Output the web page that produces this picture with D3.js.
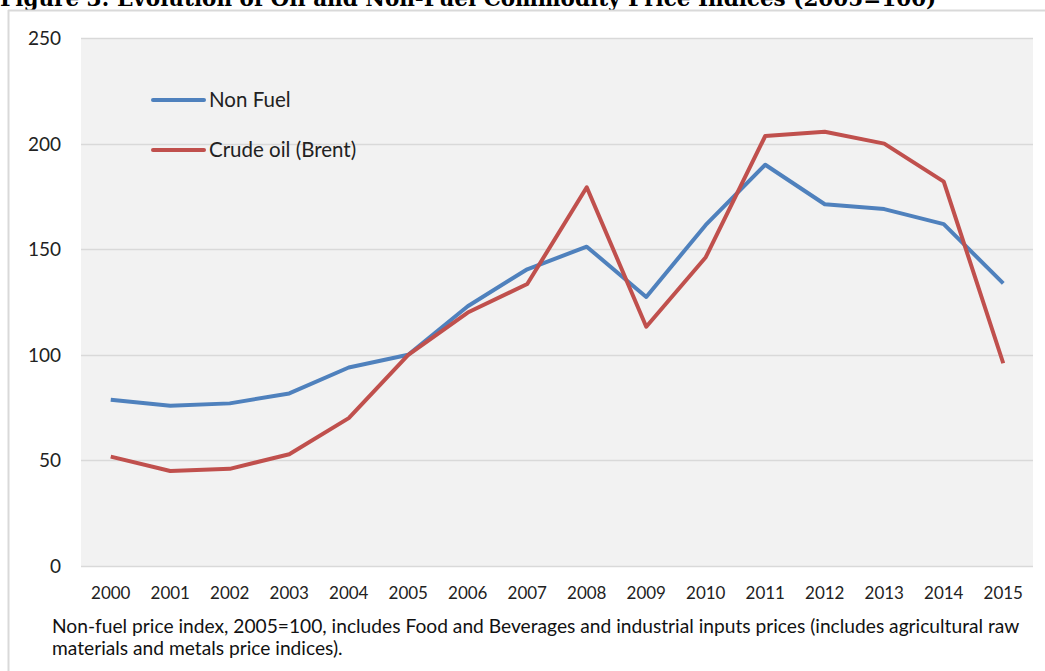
<!DOCTYPE html>
<html lang="en">
<head>
<meta charset="utf-8">
<title>Oil and Non-Fuel Commodity Price Indices</title>
<script src="https://d3js.org/d3.v7.min.js"></script>
<style>
  body { margin: 0; background: #fff; }
  svg { display: block; }
</style>
</head>
<body>
<div id="chart"></div>
<script>
// values (2005 = 100)
var years = ["2000","2001","2002","2003","2004","2005","2006","2007","2008","2009","2010","2011","2012","2013","2014","2015"];
var nonFuel = [78.7, 75.9, 77, 81.7, 94, 100, 123, 140.5, 151.2, 127.4, 161.5, 190, 171.3, 169, 161.9, 133.8];
var crudeOil = [51.8, 45, 46, 52.9, 70, 100, 120, 133.5, 179.3, 113.3, 146.2, 203.6, 205.6, 200, 182, 96];
var yTicks = [0, 50, 100, 150, 200, 250];
var seriesNames = ["Non Fuel", "Crude oil (Brent)"];
var seriesColors = ["#4f81bd", "#c0504d"];

var W = 1045, H = 671;
var plot = {left: 81, right: 1033, top: 38, bottom: 566};

var svg = d3.select("#chart").append("svg")
    .attr("width", W)
    .attr("height", H);

// title, clipped at the top in the original
svg.append("text")
    .attr("x", 0)
    .attr("y", 6)
    .style("font-family", "'DejaVu Serif', serif")
    .style("font-weight", "bold")
    .style("font-size", "21.5px")
    .attr("fill", "#000")
    .text("Figure 3: Evolution of Oil and Non-Fuel Commodity Price Indices (2005=100)");

// outer frame (left + top edges visible)
svg.append("line").attr("x1", 8.5).attr("x2", 8.5).attr("y1", 10).attr("y2", H)
    .attr("stroke", "#d9d9d9").attr("stroke-width", 2);
svg.append("line").attr("x1", 8).attr("x2", W).attr("y1", 10.5).attr("y2", 10.5)
    .attr("stroke", "#d9d9d9").attr("stroke-width", 2);

var x = d3.scaleBand().domain(years).range([plot.left, plot.right]);
var y = d3.scaleLinear().domain([0, 250]).range([plot.bottom, plot.top]);

svg.append("rect")
    .attr("x", plot.left).attr("y", plot.top)
    .attr("width", plot.right - plot.left).attr("height", plot.bottom - plot.top)
    .attr("fill", "#f2f2f2");

// gridlines
svg.append("g").selectAll("line").data(yTicks).enter().append("line")
    .attr("x1", plot.left).attr("x2", plot.right)
    .attr("y1", function(d) { return Math.round(y(d)) + 0.5; })
    .attr("y2", function(d) { return Math.round(y(d)) + 0.5; })
    .attr("stroke", "#d9d9d9").attr("stroke-width", 1.5);

// y labels
svg.append("g").selectAll("text").data(yTicks).enter().append("text")
    .attr("x", 61)
    .attr("y", function(d) { return y(d) + 7; })
    .attr("text-anchor", "end")
    .style("font-family", "Lato, sans-serif")
    .style("font-size", "19px")
    .attr("fill", "#222")
    .text(function(d) { return d; });

// x labels
svg.append("g").selectAll("text").data(years).enter().append("text")
    .attr("x", function(d) { return x(d) + x.bandwidth() / 2; })
    .attr("y", 599)
    .attr("text-anchor", "middle")
    .style("font-family", "Lato, sans-serif")
    .style("font-size", "17px")
    .attr("fill", "#222")
    .text(function(d) { return d; });

var line = d3.line()
    .x(function(d, i) { return x(years[i]) + x.bandwidth() / 2; })
    .y(function(d) { return y(d); });

[nonFuel, crudeOil].forEach(function(s, i) {
    svg.append("path")
        .datum(s)
        .attr("d", line)
        .attr("fill", "none")
        .attr("stroke", seriesColors[i])
        .attr("stroke-width", 4)
        .attr("stroke-linejoin", "round");
});

// legend
var legend = svg.append("g").selectAll("g").data(seriesNames).enter().append("g")
    .attr("transform", function(d, i) { return "translate(153," + (100 + i * 50) + ")"; });
legend.append("line")
    .attr("x1", 0).attr("x2", 51)
    .attr("stroke", function(d, i) { return seriesColors[i]; })
    .attr("stroke-width", 4)
    .attr("stroke-linecap", "round");
legend.append("text")
    .attr("x", 56).attr("y", 7)
    .style("font-family", "Lato, sans-serif")
    .style("font-size", "20.5px")
    .attr("fill", "#222")
    .text(function(d) { return d; });

// footnote
var notes = ["Non-fuel price index, 2005=100, includes Food and Beverages and industrial inputs prices (includes agricultural raw",
             "materials and metals price indices)."];
svg.append("g").selectAll("text").data(notes).enter().append("text")
    .attr("x", 52)
    .attr("y", function(d, i) { return 633 + i * 22; })
    .style("font-family", "Lato, sans-serif")
    .style("font-size", "19.2px")
    .attr("fill", "#111")
    .text(function(d) { return d; });
</script>
</body>
</html>
